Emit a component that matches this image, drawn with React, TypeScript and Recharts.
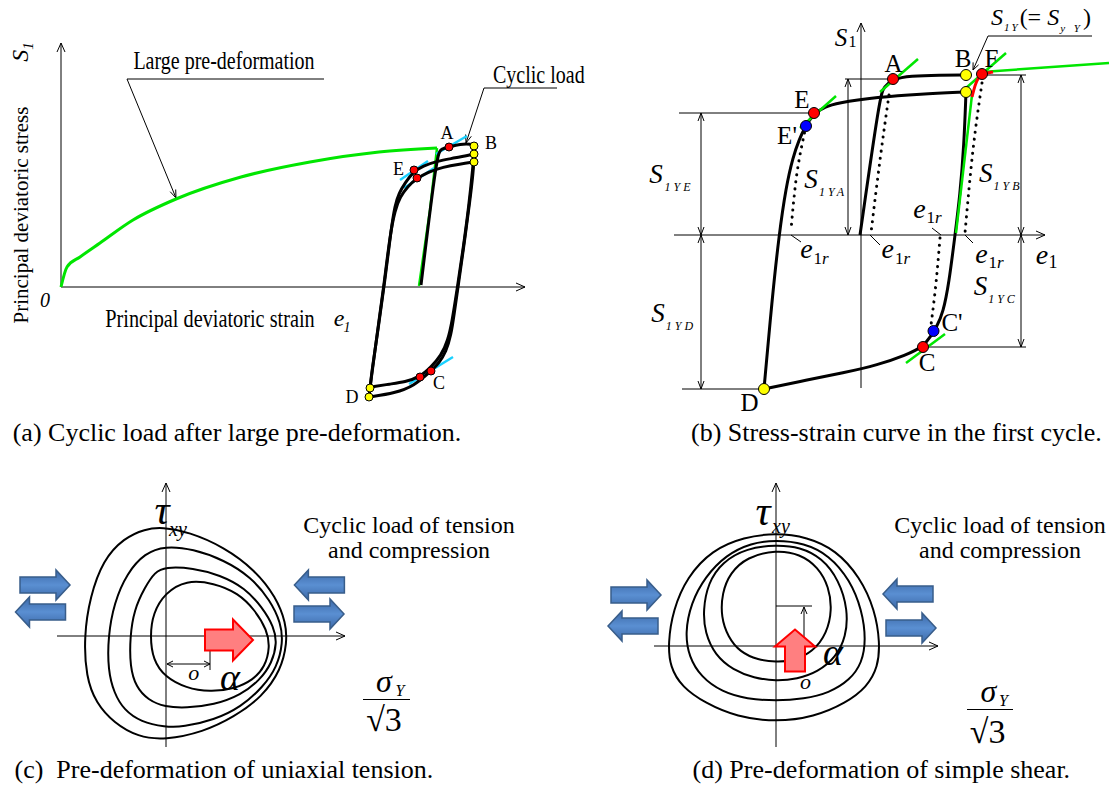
import React from "react";
import { ComposedChart, Line, Scatter, XAxis, YAxis } from "recharts";

// ---------- panel (a): cyclic load after large pre-deformation ----------
// units: strain / stress, origin at the axes crossing
const axisXA = [[0, 0], [464, 0]];
const axisYA = [[0, 0], [0, 244]];
const greenLoadA = [[0, 0], [6, 20], [19, 30], [39, 44], [72, 67], [115, 88], [180, 110], [249, 125], [318, 135], [376, 139]];
const greenUnloadA = [[376, 139], [369, 77], [358, 1]];
const firstLoadA = [[360, 2], [376, 134], [380, 138], [388, 140], [399, 143], [411, 143], [413, 141]];
const rightBranch1A = [[413, 141], [413, 121], [409, 87], [403, 42], [397, 0], [393, -28], [390, -48], [385, -65], [378, -76], [370, -84], [353, -99], [334, -106], [309, -110]];
const rightBranch2A = [[413, 133], [412, 121], [408, 82], [402, 37], [396, -3], [391, -35], [387, -53], [380, -69], [370, -80], [359, -90], [344, -95], [329, -97], [310, -100]];
const leftBranch1A = [[309, -101], [311, -83], [317, -43], [324, 7], [330, 57], [334, 82], [338, 94], [344, 104], [352, 115], [362, 121], [376, 126], [394, 129], [413, 133]];
const leftBranch2A = [[308, -110], [310, -93], [316, -48], [323, 2], [329, 52], [334, 77], [339, 90], [347, 101], [355, 108], [367, 115], [382, 120], [399, 123], [413, 125]];
const cyanA = [
  [[375, 133], [406, 151]],
  [[339, 107], [367, 126]],
  [[343, 99], [373, 119]],
  [[348, -97], [392, -70]],
];
const redDotsA = [[388, 140], [353, 117], [356, 109], [370, -84], [359, -90]];
const yellowDotsA = [[413, 141], [413, 133], [413, 125], [309, -101], [308, -110]];
const leadersA = [
  [[66, 208], [263, 208]],
  [[66, 208], [115, 89]],
  [[114.7, 97.5], [115, 89], [109.2, 95.3]],
  [[423, 199], [527, 199]],
  [[423, 199], [405, 144]],
  [[410.3, 150.7], [405, 144], [404.6, 152.5]],
];

// ---------- panel (b): stress-strain curve in the first cycle ----------
const axisXB = [[-187, 0], [184, 0]];
const axisYB = [[0, -153], [0, 212]];
const refLinesB = [
  [[-16, 156], [32, 156]],
  [[121, 160], [165, 160]],
  [[-182, 122], [-47, 122]],
  [[63, -112], [165, -112]],
  [[-179, -154], [-97, -154]],
];
const dimLinesB = [
  [[-160, 122], [-160, -154]],
  [[-13, 156], [-13, 0]],
  [[160, 160], [160, -112]],
];
const dimTipsUpB = [[-160, 122], [-160, 0], [-13, 156], [160, 160], [160, 0]];
const dimTipsDownB = [[-160, 0], [-160, -154], [-13, 0], [160, 0], [160, -112]];
const firstLoadB = [[-1, 0], [19, 140], [23, 148], [32, 156], [49, 159], [79, 160], [105, 160]];
const rightBottomB = [[105, 143], [103, 90], [99, 40], [94, 0], [88, -48], [82, -78], [76, -91], [70, -101], [62, -112], [45, -120], [17, -130], [-18, -138], [-54, -145], [-97, -154]];
const leftTopB = [[-97, -154], [-89, -65], [-82, 0], [-75, 48], [-68, 78], [-62, 95], [-56, 108], [-47, 122], [-36, 128], [-25, 132], [17, 138], [59, 141], [105, 143]];
const greenB = [
  [[19, 143], [57, 176]],
  [[-61, 107], [-25, 139]],
  [[105, 147], [145, 182]],
  [[45, -128], [84, -99]],
  [[95, 2], [111, 140]],
  [[121, 163], [248, 172]],
];
const redCurveB = [[111, 138], [114, 150], [117, 157], [121, 161], [132, 163]];
const dottedB = [
  [[-55, 109], [-64, 62], [-70, 5]],
  [[28, 140], [19, 75], [10, 2]],
  [[121, 152], [112, 85], [104, 2]],
  [[79, -3], [75, -48], [70, -90]],
];
const leadersB = [
  [[-70, 0], [-60, -7]],
  [[9, 0], [19, -10]],
  [[104, 0], [112, -8]],
  [[71, 7], [80, 0]],
  [[127, 199], [231, 199]],
  [[127, 199], [112, 165]],
  [[117.6, 170.2], [112, 165], [112.1, 172.6]],
];
const redDotsB = [[32, 156], [-47, 122], [62, -112], [121, 161]];
const yellowDotsB = [[105, 160], [105, 143], [-97, -154]];
const blueDotsB = [[-55, 109], [72.5, -96]];

// ---------- panel (c): pre-deformation of uniaxial tension ----------
const axisXC = [[-109, 0], [179, 0]];
const axisYC = [[0, -111], [0, 153]];
const surfacesC = [
  [[-4, 109], [23, 104], [58, 89], [89, 66], [110, 39], [120, 13], [121, -7], [115, -34], [96, -61], [68, -81], [37, -96], [-1, -104], [-28, -101], [-52, -87], [-70, -67], [-80, -41], [-82, 0], [-76, 39], [-63, 76], [-42, 98], [-21, 107]],
  [[-1, 90], [27, 87], [58, 76], [85, 59], [104, 36], [115, 13], [117, -7], [111, -31], [97, -51], [75, -71], [48, -84], [17, -91], [-1, -91], [-25, -86], [-42, -74], [-52, -57], [-58, -34], [-58, -1], [-52, 33], [-39, 63], [-21, 83]],
  [[-1, 69], [27, 68], [54, 61], [79, 48], [96, 29], [108, 9], [111, -7], [106, -27], [94, -44], [75, -59], [48, -69], [20, -72], [-1, -71], [-18, -64], [-30, -51], [-36, -31], [-36, -1], [-32, 26], [-21, 49], [-11, 64]],
  [[20, 56], [48, 53], [72, 43], [89, 26], [101, 6], [104, -11], [99, -31], [87, -44], [68, -53], [44, -56], [20, -52], [-1, -41], [-13, -24], [-16, 0], [-13, 23], [-1, 43]],
];
const bracketC = [
  [[1, -28], [44, -28]],
  [[44, -14], [44, -34]],
];
const blueRightC = [[-121, 51], [153, 22]];
const blueLeftC = [[-125.5, 24], [153.4, 51]];
const redRightC = [[63, -4]];

// ---------- panel (d): pre-deformation of simple shear ----------
const axisXD = [[-122, 0], [162, 0]];
const axisYD = [[0, -101], [0, 163]];
const surfacesD = [
  [[0, 113], [31, 109], [60, 96], [84, 69], [99, 36], [104, 3], [102, -21], [91, -41], [70, -57], [38, -71], [0, -76], [-39, -71], [-71, -57], [-94, -41], [-106, -21], [-108, 3], [-103, 36], [-89, 69], [-64, 96], [-32, 109]],
  [[0, 106], [28, 103], [53, 91], [74, 66], [86, 36], [90, 6], [86, -17], [74, -34], [53, -47], [28, -53], [0, -55], [-29, -53], [-54, -46], [-75, -31], [-87, -11], [-91, 13], [-85, 43], [-71, 69], [-50, 91], [-25, 103]],
  [[0, 101], [24, 99], [46, 88], [63, 66], [72, 36], [70, 9], [60, -11], [42, -26], [21, -33], [0, -35], [-22, -32], [-43, -24], [-61, -9], [-71, 13], [-73, 36], [-68, 63], [-54, 84], [-29, 98]],
  [[0, 96], [24, 92], [42, 79], [53, 59], [56, 36], [51, 13], [37, -6], [17, -15], [0, -16], [-18, -14], [-36, -6], [-48, 9], [-55, 29], [-54, 53], [-46, 73], [-29, 89]],
];
const bracketD = [
  [[0, 40], [36, 40]],
  [[28, 3], [28, 39]],
];
const blueRightD = [[-140, 51], [135, 18]];
const blueLeftD = [[-143, 20], [132, 52]];
const redUpD = [[19, -4.5]];

const GREEN = "#00e600";
const CYAN = "#1ad1ff";
const FONT = '"Liberation Serif", "Times New Roman", serif';

const toPts = (a: number[][]) => a.map(([x, y]) => ({ x, y }));

function curve(key: string, pts: number[][], stroke: string, width: number, type: any = "linear", dash?: string) {
  return (
    <Line
      key={key}
      data={toPts(pts)}
      dataKey="y"
      type={type}
      stroke={stroke}
      strokeWidth={width}
      strokeDasharray={dash}
      strokeLinecap={dash ? "round" : "butt"}
      dot={false}
      activeDot={false}
      isAnimationActive={false}
      legendType="none"
    />
  );
}

const dotShape = (r: number, fill: string) => (p: any) => (
  <circle cx={p.cx} cy={p.cy} r={r} fill={fill} stroke="#000" strokeWidth={1} />
);

const headShape = (dir: string, len: number, half: number) => (p: any) => {
  const { cx, cy } = p;
  let d = "";
  if (dir === "up") d = `M${cx - half},${cy + len}L${cx},${cy}L${cx + half},${cy + len}`;
  if (dir === "down") d = `M${cx - half},${cy - len}L${cx},${cy}L${cx + half},${cy - len}`;
  if (dir === "right") d = `M${cx - len},${cy - half}L${cx},${cy}L${cx - len},${cy + half}`;
  if (dir === "left") d = `M${cx + len},${cy - half}L${cx},${cy}L${cx + len},${cy + half}`;
  return <path d={d} fill="none" stroke="#000" strokeWidth={1} />;
};

// block arrows; the blue ones get the shaded look of the office-style arrows
const blockShape = (dir: string, fill: string, stroke: string, sw: number, L: number, sh: number, hh: number, hb: number) => (p: any) => {
  const { cx, cy } = p;
  let d = "";
  if (dir === "right")
    d = `M${cx - L},${cy - sh}H${cx + hb}V${cy - hh}L${cx + L},${cy}L${cx + hb},${cy + hh}V${cy + sh}H${cx - L}Z`;
  if (dir === "left")
    d = `M${cx + L},${cy - sh}H${cx - hb}V${cy - hh}L${cx - L},${cy}L${cx - hb},${cy + hh}V${cy + sh}H${cx + L}Z`;
  if (dir === "up")
    d = `M${cx - sh},${cy + L}V${cy - hb}H${cx - hh}L${cx},${cy - L}L${cx + hh},${cy - hb}H${cx + sh}V${cy + L}Z`;
  return (
    <g>
      <defs>
        <linearGradient id="blueShade" x1="0" y1="0" x2="0" y2="1">
          <stop offset="0" stopColor="#3c69a8" />
          <stop offset="0.5" stopColor="#5a8fd2" />
          <stop offset="1" stopColor="#3c69a8" />
        </linearGradient>
      </defs>
      <path d={d} fill={fill} stroke={stroke} strokeWidth={sw} strokeLinejoin="miter" />
    </g>
  );
};

function marks(key: string, pts: number[][], shape: any) {
  return <Scatter key={key} data={toPts(pts)} shape={shape} isAnimationActive={false} legendType="none" />;
}

function Panel({ left, top, width, height, xDomain, yDomain, children }: any) {
  return (
    <div style={{ position: "absolute", left, top, width, height }}>
      <ComposedChart width={width} height={height} margin={{ top: 0, right: 0, bottom: 0, left: 0 }}>
        <XAxis type="number" dataKey="x" domain={xDomain} allowDataOverflow hide />
        <YAxis type="number" dataKey="y" domain={yDomain} allowDataOverflow hide />
        {children}
      </ComposedChart>
    </div>
  );
}

function T({ x, y, size, italic, sx = 1, rot = 0, align = "center", children, ls }: any) {
  const tx = align === "left" ? "0" : "-50%";
  return (
    <div
      style={{
        position: "absolute",
        left: x,
        top: y,
        fontFamily: FONT,
        fontSize: size,
        fontStyle: italic ? "italic" : "normal",
        letterSpacing: ls,
        lineHeight: 1,
        whiteSpace: "pre",
        color: "#000",
        transform: `translate(${tx},-50%) rotate(${rot}deg) scaleX(${sx})`,
        transformOrigin: align === "left" ? "0 50%" : "50% 50%",
      }}
    >
      {children}
    </div>
  );
}

function Bar({ x, y, w }: any) {
  return <div style={{ position: "absolute", left: x, top: y, width: w, height: 1.5, background: "#000" }} />;
}

const BLUE = "url(#blueShade)";

export default function App() {
  return (
    <div style={{ position: "absolute", left: 0, top: 0, width: 1114, height: 790, background: "#fff", overflow: "hidden" }}>
      <Panel left={0} top={0} width={557} height={420} xDomain={[-61, 496]} yDomain={[-133, 287]}>
        {curve("ax", axisXA, "#000", 1)}
        {curve("ay", axisYA, "#000", 1)}
        {leadersA.map((l, i) => curve(`la${i}`, l, "#000", 1))}
        {curve("gl", greenLoadA, GREEN, 3, "monotone")}
        {curve("gu", greenUnloadA, GREEN, 2.5)}
        {cyanA.map((l, i) => curve(`ca${i}`, l, CYAN, 2.5))}
        {curve("fl", firstLoadA, "#000", 3, "basis")}
        {curve("r1", rightBranch1A, "#000", 3, "basis")}
        {curve("r2", rightBranch2A, "#000", 3, "basis")}
        {curve("l1", leftBranch1A, "#000", 3, "basis")}
        {curve("l2", leftBranch2A, "#000", 3, "basis")}
        {marks("hx", [axisXA[1]], headShape("right", 9, 4))}
        {marks("hy", [axisYA[1]], headShape("up", 9, 4))}
        {marks("rd", redDotsA, dotShape(4, "#ff0000"))}
        {marks("yd", yellowDotsA, dotShape(4, "#ffff00"))}
      </Panel>

      <Panel left={557} top={0} width={557} height={420} xDomain={[-304, 253]} yDomain={[-185, 235]}>
        {curve("ax", axisXB, "#000", 1)}
        {curve("ay", axisYB, "#000", 1)}
        {refLinesB.map((l, i) => curve(`rl${i}`, l, "#000", 1))}
        {dimLinesB.map((l, i) => curve(`dl${i}`, l, "#000", 1))}
        {leadersB.map((l, i) => curve(`lb${i}`, l, "#000", 1))}
        {dottedB.map((l, i) => curve(`db${i}`, l, "#000", 3, "natural", "0.1 7"))}
        {curve("fl", firstLoadB, "#000", 3, "basis")}
        {curve("rb", rightBottomB, "#000", 3, "basis")}
        {curve("lt", leftTopB, "#000", 3, "basis")}
        {greenB.map((l, i) => curve(`gb${i}`, l, GREEN, 2.5))}
        {curve("rc", redCurveB, "#ff0000", 3, "basis")}
        {marks("hx", [axisXB[1]], headShape("right", 9, 4))}
        {marks("hy", [axisYB[1]], headShape("up", 9, 4))}
        {marks("du", dimTipsUpB, headShape("up", 8, 3))}
        {marks("dd", dimTipsDownB, headShape("down", 8, 3))}
        {marks("rd", redDotsB, dotShape(5.5, "#ff0000"))}
        {marks("yd", yellowDotsB, dotShape(5.5, "#ffff00"))}
        {marks("bd", blueDotsB, dotShape(5.5, "#0000ff"))}
      </Panel>

      <Panel left={0} top={420} width={557} height={370} xDomain={[-166, 391]} yDomain={[-154, 216]}>
        {curve("ax", axisXC, "#000", 1)}
        {curve("ay", axisYC, "#000", 1)}
        {surfacesC.map((s, i) => curve(`sc${i}`, s, "#000", 2, "basisClosed"))}
        {bracketC.map((l, i) => curve(`bc${i}`, l, "#000", 1))}
        {marks("hx", [axisXC[1]], headShape("right", 9, 4))}
        {marks("hy", [axisYC[1]], headShape("up", 9, 4))}
        {marks("bl", [bracketC[0][0]], headShape("left", 6, 3))}
        {marks("br", [bracketC[0][1]], headShape("right", 6, 3))}
        {marks("ar", blueRightC, blockShape("right", BLUE, "#385d8a", 1.5, 25, 8, 15, 11))}
        {marks("al", blueLeftC, blockShape("left", BLUE, "#385d8a", 1.5, 25, 8, 15, 11))}
        {marks("rr", redRightC, blockShape("right", "#ff7f80", "#ff0000", 2, 24, 10.5, 20.5, 4))}
      </Panel>

      <Panel left={557} top={420} width={557} height={370} xDomain={[-219, 338]} yDomain={[-144, 226]}>
        {curve("ax", axisXD, "#000", 1)}
        {curve("ay", axisYD, "#000", 1)}
        {surfacesD.map((s, i) => curve(`sd${i}`, s, "#000", 2, "basisClosed"))}
        {bracketD.map((l, i) => curve(`bd${i}`, l, "#000", 1))}
        {marks("hx", [axisXD[1]], headShape("right", 9, 4))}
        {marks("hy", [axisYD[1]], headShape("up", 9, 4))}
        {marks("bu", [bracketD[1][1]], headShape("up", 7, 3))}
        {marks("ar", blueRightD, blockShape("right", BLUE, "#385d8a", 1.5, 25, 8, 15, 11))}
        {marks("al", blueLeftD, blockShape("left", BLUE, "#385d8a", 1.5, 25, 8, 15, 11))}
        {marks("ru", redUpD, blockShape("up", "#ff7f80", "#ff0000", 2, 21, 10, 20, 4))}
      </Panel>

      {/* panel (a) texts */}
      <T x={223.5} y={60} size={25} sx={0.8}>Large pre-deformation</T>
      <T x={493} y={74} size={25} sx={0.8} align="left">Cyclic load</T>
      <T x={210} y={319} size={26} sx={0.78}>Principal deviatoric strain</T>
      <T x={339} y={318} size={24} italic>e</T>
      <T x={347} y={328} size={14} italic>1</T>
      <T x={45} y={300} size={20} italic>0</T>
      <T x={22} y={52} size={24} italic rot={-90}>
        S<span style={{ fontSize: 15, verticalAlign: "-0.3em" }}>1</span>
      </T>
      <T x={20.5} y={215} size={21} rot={-90}>Principal deviatoric stress</T>
      <T x={447} y={132.5} size={18}>A</T>
      <T x={491} y={142.5} size={18}>B</T>
      <T x={398.6} y={169} size={18}>E</T>
      <T x={439} y={382.5} size={18}>C</T>
      <T x={352} y={396.5} size={18}>D</T>
      <T x={12.7} y={433} size={26} align="left">(a) Cyclic load after large pre-deformation.</T>

      {/* panel (b) texts */}
      <T x={841} y={36.7} size={25} italic>S</T>
      <T x={852.5} y={42} size={16}>1</T>
      <T x={893.6} y={63.3} size={25}>A</T>
      <T x={963} y={58} size={25}>B</T>
      <T x={991.5} y={58} size={25}>F</T>
      <T x={802} y={99} size={25}>E</T>
      <T x={787} y={135} size={25}>E'</T>
      <T x={952} y={322} size={25}>C'</T>
      <T x={927} y={362} size={25}>C</T>
      <T x={749.5} y={401.5} size={25}>D</T>
      <T x={656} y={174} size={27} italic>S</T>
      <T x={679} y={187} size={12} italic ls={3}>1YE</T>
      <T x={811} y={179} size={27} italic>S</T>
      <T x={833} y={192} size={12} italic ls={3}>1YA</T>
      <T x={985.8} y={172.5} size={27} italic>S</T>
      <T x={1008} y={185.5} size={12} italic ls={3}>1YB</T>
      <T x={980.5} y={286} size={27} italic>S</T>
      <T x={1003} y={299} size={12} italic ls={3}>1YC</T>
      <T x={658} y={312.5} size={27} italic>S</T>
      <T x={681} y={325.5} size={12} italic ls={3}>1YD</T>
      {[
        [806.5, 248.5, 821, 257.5],
        [887.8, 248.5, 902.5, 257.5],
        [981.4, 253.7, 996, 262],
        [919.5, 208.7, 934, 217],
      ].map(([ex, ey, sx2, sy], i) => (
        <React.Fragment key={i}>
          <T x={ex} y={ey} size={28} italic>e</T>
          <T x={sx2} y={sy} size={17}>1<i>r</i></T>
        </React.Fragment>
      ))}
      <T x={1042} y={254.5} size={28} italic>e</T>
      <T x={1053} y={262} size={18}>1</T>
      <T x={991} y={19} size={24} align="left">
        <i>S</i>
        <i style={{ fontSize: 11, letterSpacing: 2, verticalAlign: "-0.5em", marginLeft: 1 }}>1Y</i>
        (= <i>S</i>
        <i style={{ fontSize: 11, letterSpacing: 3, verticalAlign: "-0.6em", marginLeft: 1 }}>y Y</i>)
      </T>
      <T x={691} y={433} size={26} align="left">(b) Stress-strain curve in the first cycle.</T>

      {/* panel (c) texts */}
      <T x={162} y={510} size={42} italic>τ</T>
      <T x={178} y={529} size={20} italic>xy</T>
      <T x={409} y={525} size={24}>Cyclic load of tension</T>
      <T x={409} y={550} size={24}>and compression</T>
      <T x={193.7} y={673} size={22} italic>o</T>
      <T x={230} y={677} size={38} italic>α</T>
      <T x={384} y={681} size={32} italic>σ</T>
      <T x={400} y={691} size={16} italic>Y</T>
      <Bar x={363} y={698.5} w={47} />
      <T x={384} y={720} size={34}>√3</T>
      <T x={14.5} y={770} size={26} align="left">(c)  Pre-deformation of uniaxial tension.</T>

      {/* panel (d) texts */}
      <T x={763} y={511} size={42} italic>τ</T>
      <T x={781} y={526} size={20} italic>xy</T>
      <T x={1000} y={525} size={24}>Cyclic load of tension</T>
      <T x={1000} y={550} size={24}>and compression</T>
      <T x={833} y={652} size={38} italic>α</T>
      <T x={805.6} y={682} size={22} italic>o</T>
      <T x={988.5} y={691} size={32} italic>σ</T>
      <T x={1003.4} y={701} size={16} italic>Y</T>
      <Bar x={967} y={708.5} w={46} />
      <T x={987.6} y={732} size={34}>√3</T>
      <T x={692.5} y={770} size={26} align="left">(d) Pre-deformation of simple shear.</T>
    </div>
  );
}
